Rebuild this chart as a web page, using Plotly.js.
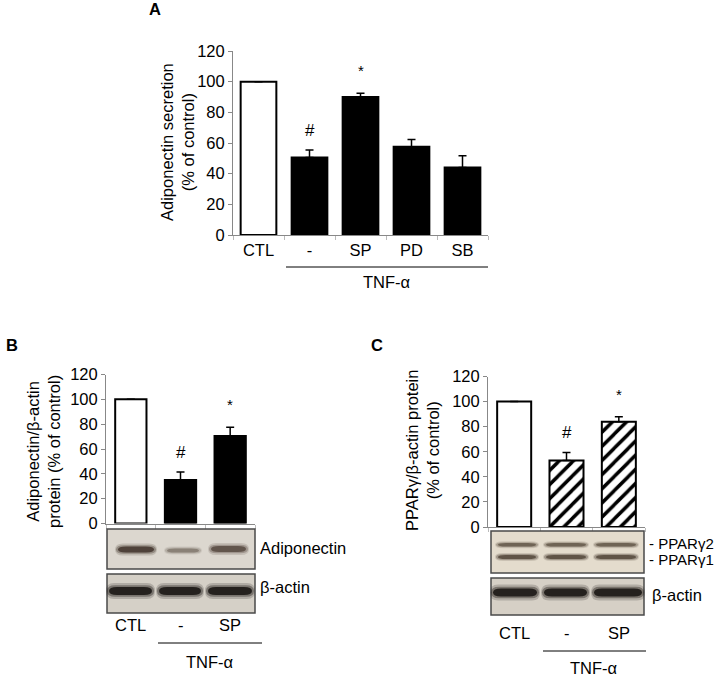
<!DOCTYPE html>
<html>
<head>
<meta charset="utf-8">
<script src="https://cdn.plot.ly/plotly-3.0.1.min.js"></script>
<style>html,body{margin:0;padding:0;background:#fff;}#chart{width:723px;height:676px;}</style>
</head>
<body>
<div id="chart"></div>
<script>
// ---------- DATA ----------
const catsA = ['CTL', '-', 'SP', 'PD', 'SB'];
const valsA = [100, 50.5, 90, 57.5, 44];
const errA = [0, 5, 2.5, 4.8, 7.7];
const sigA = ['', '#', '*', '', ''];

const catsBC = ['CTL', '-', 'SP'];
const valsB = [100, 35, 70.5];
const errB = [0, 6.5, 7];
const sigB = ['', '#', '*'];

const valsC = [100, 53, 84];
const errC = [0, 6.5, 4];
const sigC = ['', '#', '*'];

const yTicks = [0, 20, 40, 60, 80, 100, 120];
const groupLabel = 'TNF-α';
const titleA = 'Adiponectin secretion<br>(% of control)';
const titleB = 'Adiponectin/β-actin<br>protein (% of control)';
const titleC = 'PPARγ/β-actin protein<br>(% of control)';
const blotLabelsB = ['Adiponectin', 'β-actin'];
const blotLabelsC = ['- PPARγ2', '- PPARγ1', 'β-actin'];

// ---------- helpers ----------
const W = 723, H = 676;
const px = x => x / W;
const py = y => 1 - y / H;
const FONT = 'Liberation Sans, Arial, Helvetica, sans-serif';

function errBars(arr) {
  return {type: 'data', symmetric: false, array: arr, arrayminus: arr.map(() => 0),
          color: '#000', thickness: 1.5, width: 4};
}

const traces = [
  {type: 'bar', x: catsA, y: valsA, xaxis: 'x', yaxis: 'y', width: 0.7,
   marker: {color: catsA.map((c, i) => i === 0 ? '#fff' : '#000'), line: {color: '#000', width: 2}},
   error_y: errBars(errA), hoverinfo: 'none'},
  {type: 'bar', x: catsBC, y: valsB, xaxis: 'x2', yaxis: 'y2', width: 0.63,
   marker: {color: catsBC.map((c, i) => i === 0 ? '#fff' : '#000'), line: {color: '#000', width: 2}},
   error_y: errBars(errB), hoverinfo: 'none'},
  {type: 'bar', x: catsBC, y: valsC, xaxis: 'x3', yaxis: 'y3', width: 0.65,
   marker: {color: '#fff', line: {color: '#000', width: 2},
            pattern: {shape: catsBC.map((c, i) => i === 0 ? '' : '/'), fgcolor: '#000', bgcolor: '#fff',
                      size: 10, solidity: 0.35}},
   error_y: errBars(errC), hoverinfo: 'none'}
];

function yax(domain, anchor) {
  return {domain: domain, anchor: anchor, range: [0, 120], tickvals: yTicks, ticks: 'outside', ticklen: 4,
          tickcolor: '#888', showline: true, linecolor: '#888', linewidth: 1, showgrid: false,
          zeroline: false, tickfont: {size: 16.5, family: FONT, color: '#000'}, fixedrange: true};
}
function xax(domain, anchor, n, showLabels) {
  return {domain: domain, anchor: anchor, type: 'category', range: [-0.5, n - 0.5], showline: true,
          linecolor: '#888', linewidth: 1, ticks: 'outside', tickson: 'boundaries', ticklen: 4,
          tickcolor: '#bbb', showgrid: false, zeroline: false, showticklabels: showLabels,
          tickfont: {size: 16.5, family: FONT, color: '#000'}, fixedrange: true};
}

const annotations = [];
const shapes = [];
function txt(x, y, text, opts) {
  annotations.push(Object.assign({xref: 'paper', yref: 'paper', x: px(x), y: py(y), text: text,
    showarrow: false, font: {size: 16.5, family: FONT, color: '#000'}, xanchor: 'center', yanchor: 'middle'}, opts || {}));
}

// panel letters
txt(155, 9, '<b>A</b>');
txt(12, 345, '<b>B</b>');
txt(377, 345, '<b>C</b>');

// y titles
const tFont = {size: 16.5, family: FONT, color: '#000'};
txt(178, 142, titleA, {textangle: -90, font: tFont});
txt(43, 452, titleB, {textangle: -90, font: tFont});
txt(422, 451, titleC, {textangle: -90, font: tFont});

// significance marks
function sig(cats, vals, errs, marks, xr, yr) {
  marks.forEach((m, i) => {
    if (!m) return;
    annotations.push({xref: xr, yref: yr, x: cats[i], y: vals[i] + errs[i], text: m, showarrow: false,
      yanchor: 'bottom', yshift: m === '#' ? 8 : 12,
      font: {size: m === '#' ? 17 : 15, family: FONT, color: '#000'}});
  });
}
sig(catsA, valsA, errA, sigA, 'x', 'y');
sig(catsBC, valsB, errB, sigB, 'x2', 'y2');
sig(catsBC, valsC, errC, sigC, 'x3', 'y3');

// category labels under blots (B, C)
catsBC.forEach((c, i) => {
  annotations.push({xref: 'x2', yref: 'paper', x: c, y: py(625), text: c, showarrow: false,
    font: {size: 16.5, family: FONT, color: '#000'}, yanchor: 'middle'});
  annotations.push({xref: 'x3', yref: 'paper', x: c, y: py(633), text: c, showarrow: false,
    font: {size: 16.5, family: FONT, color: '#000'}, yanchor: 'middle'});
});

// TNF group lines + labels
function hline(x0, x1, y) {
  shapes.push({type: 'line', xref: 'paper', yref: 'paper', x0: px(x0), x1: px(x1), y0: py(y), y1: py(y),
    line: {color: '#000', width: 1}});
}
hline(286, 488, 267); txt(387, 282, groupLabel);
hline(158, 262, 643); txt(210, 662, groupLabel);
hline(543, 646, 651); txt(594, 668, groupLabel);

// blots
function frame(x0, x1, y0, y1, fill) {
  shapes.push({type: 'rect', xref: 'paper', yref: 'paper', x0: px(x0), x1: px(x1), y0: py(y0), y1: py(y1),
    fillcolor: fill, line: {color: '#4a4a4a', width: 1.5}});
}
function bandPath(x0, x1, yc, h) {
  const r = Math.min(8, (x1 - x0) / 4);
  const y0 = yc - h / 2, y1 = yc + h / 2;
  const P = (x, y) => px(x) + ',' + py(y);
  return 'M' + P(x0, yc) + ' Q' + P(x0, y0) + ' ' + P(x0 + r, y0) + ' L' + P(x1 - r, y0) +
         ' Q' + P(x1, y0) + ' ' + P(x1, yc) + ' Q' + P(x1, y1) + ' ' + P(x1 - r, y1) +
         ' L' + P(x0 + r, y1) + ' Q' + P(x0, y1) + ' ' + P(x0, yc) + ' Z';
}
function band(x0, x1, yc, h, color, op) {
  shapes.push({type: 'path', xref: 'paper', yref: 'paper', path: bandPath(x0 - 2, x1 + 2, yc, h * 2.0),
    fillcolor: color, opacity: op * 0.18, line: {width: 0}});
  shapes.push({type: 'path', xref: 'paper', yref: 'paper', path: bandPath(x0 - 1, x1 + 1, yc, h * 1.45),
    fillcolor: color, opacity: op * 0.35, line: {width: 0}});
  shapes.push({type: 'path', xref: 'paper', yref: 'paper', path: bandPath(x0 + 1, x1 - 1, yc, h),
    fillcolor: color, opacity: op * 0.8, line: {width: 0}});
}

// Panel B blots
frame(107, 255, 529, 569, '#dcd7cf');
band(117, 155, 549.5, 6, '#3a2c24', 0.95);
band(166, 200, 550.5, 4, '#6a5e54', 0.7);
band(210, 247, 549, 6, '#45372e', 0.85);
frame(107, 255, 574, 613, '#d5d0c7');
band(108, 153, 591, 8, '#100c0a', 1);
band(158, 202, 591, 8, '#100c0a', 1);
band(207, 253, 591, 8, '#100c0a', 1);
txt(258, 548, blotLabelsB[0], {xanchor: 'left'});
txt(258, 587, blotLabelsB[1], {xanchor: 'left'});

// Panel C blots
frame(491, 644, 531, 573, '#e4dccd');
[[497, 537], [545, 587], [595, 637]].forEach(l => {
  band(l[0], l[1], 544.7, 3.5, '#54483a', 0.85);
  band(l[0], l[1], 557, 4, '#463a2e', 0.9);
});
frame(491, 644, 578, 615, '#d6d0c6');
[[492, 538], [543, 588], [593, 643]].forEach(l => band(l[0], l[1], 592.5, 8, '#100c0a', 1));
const pFont = {size: 15, family: FONT, color: '#000'};
txt(647, 543.5, blotLabelsC[0], {xanchor: 'left', font: pFont});
txt(647, 559.5, blotLabelsC[1], {xanchor: 'left', font: pFont});
txt(650, 595, blotLabelsC[2], {xanchor: 'left'});

const layout = {
  width: W, height: H, margin: {l: 0, r: 0, t: 0, b: 0},
  paper_bgcolor: '#fff', plot_bgcolor: 'rgba(0,0,0,0)', showlegend: false,
  font: {family: FONT, size: 16, color: '#000'},
  xaxis: xax([px(233), px(488)], 'y', catsA.length, true),
  yaxis: yax([py(235), py(51)], 'x'),
  xaxis2: xax([px(106), px(255)], 'y2', catsBC.length, false),
  yaxis2: yax([py(523.5), py(374.5)], 'x2'),
  xaxis3: xax([px(488), px(645)], 'y3', catsBC.length, false),
  yaxis3: yax([py(527), py(376.5)], 'x3'),
  annotations: annotations, shapes: shapes
};

Plotly.newPlot('chart', traces, layout, {staticPlot: true, displayModeBar: false});
</script>
</body>
</html>
